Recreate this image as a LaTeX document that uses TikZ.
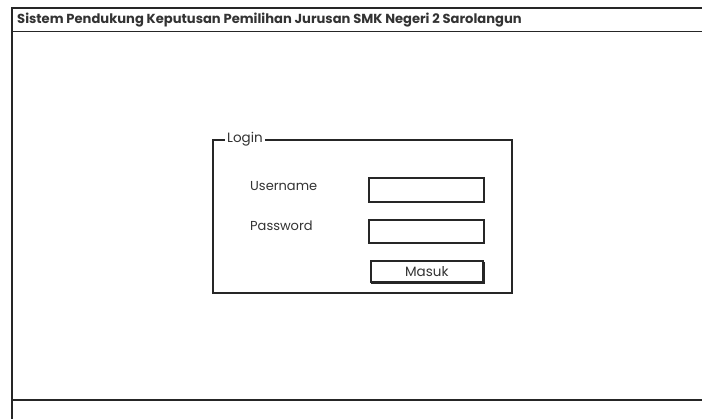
\documentclass[tikz,border=0pt]{standalone}
\usepackage{fontspec}
\setmainfont{Poppins}
\begin{document}
\begin{tikzpicture}[x=1pt,y=-1pt,
  frame/.style={line width=1.6pt, draw=black!85},
  field/.style={line width=1.6pt, draw=black!85, fill=white},
  lbl/.style={font=\fontsize{13}{14}\selectfont, text=black!80, inner sep=0pt, anchor=west}]
\useasboundingbox[fill=white] (0,0) rectangle (702,419);
% window
\coordinate (wtl) at (12,8);
\coordinate (wtr) at (702,8);
\coordinate (wbl) at (12,419);
\draw[frame] (wtr) -- (wtl) -- (wbl);
\coordinate (tbl) at (12,31.5);
\coordinate (tbr) at (702,31.5);
\draw[frame] (tbl) -- (tbr);
\coordinate (bbl) at (12,400);
\coordinate (bbr) at (702,400);
\draw[frame] (bbl) -- (bbr);
\node[lbl, font=\fontsize{13.1}{14}\selectfont\bfseries] (title) at (17,20) {Sistem Pendukung Keputusan Pemilihan Jurusan SMK Negeri 2 Sarolangun};
% login group
\coordinate (gtl) at (213,140);
\coordinate (gbr) at (512,293);
\draw[frame] (gtl) rectangle (gbr);
\node[lbl, fill=white, inner xsep=2pt, font=\fontsize{13.5}{14}\selectfont] (login) at (225,139) {Login};
\node[lbl] (user) at (250,186) {Username};
\node[lbl] (pass) at (250,226) {Password};
\node[field, minimum width=115pt, minimum height=24pt, inner sep=0pt, anchor=north west] (uf) at (368,177) {};
\node[field, minimum width=115pt, minimum height=23pt, inner sep=0pt, anchor=north west] (pf) at (368,219) {};
\draw[line width=1.6pt, black!85] (372,263) rectangle (484,283);
\node[field, minimum width=112pt, minimum height=21pt, inner sep=0pt, anchor=north west, font=\fontsize{13.5}{14}\selectfont, text=black!80] (btn) at (370,260) {Masuk};
\end{tikzpicture}
\end{document}
